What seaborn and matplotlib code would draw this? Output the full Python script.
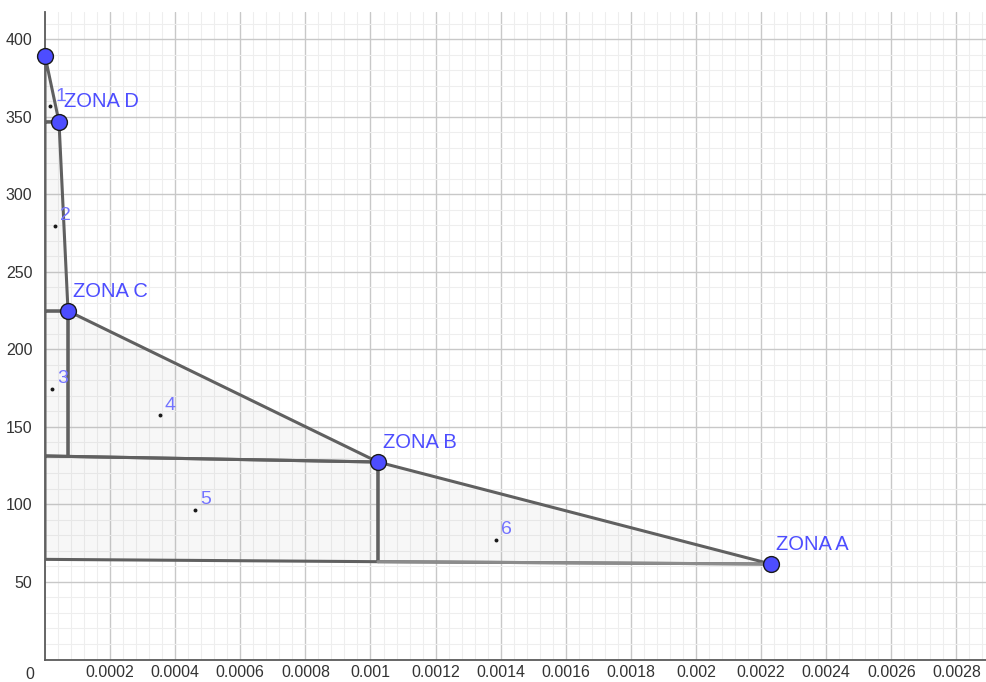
import numpy as np
import pandas as pd
import seaborn as sns
import matplotlib.pyplot as plt
from matplotlib.ticker import MultipleLocator

# --- data ---
zone_names = ["ZONA A", "ZONA B", "ZONA C", "ZONA D"]
zone_x = [0.00223, 0.001023, 0.0000707, 0.000043]
zone_y = [61.6, 127.4, 224.8, 346.8]

# top vertex on the y axis
top_x, top_y = 0.0, 389.5

# lower corners of the regions
mid_left_y = 131.3      # y of line C-B at x=0
mid_c_y = 131.0         # y of that line under ZONA C
low_left_y = 64.6       # bottom line at x=0
low_b_y = 63.1          # bottom line under ZONA B

region_ids = ["1", "2", "3", "4", "5", "6"]
region_x = [0.0000154, 0.0000307, 0.0000215, 0.000353, 0.000461, 0.001386]
region_y = [357.0, 279.7, 174.5, 157.7, 96.5, 77.1]

x_ticks = [0.0002, 0.0004, 0.0006, 0.0008, 0.001, 0.0012, 0.0014,
           0.0016, 0.0018, 0.002, 0.0022, 0.0024, 0.0026, 0.0028]
y_ticks = [50, 100, 150, 200, 250, 300, 350, 400]

sns.set_style("white")
plt.rcParams['font.family'] = ['Liberation Sans', 'DejaVu Sans']

fig = plt.figure(figsize=(9.86, 6.82), dpi=100)
ax = fig.add_axes([45 / 986, 22.5 / 682, 941 / 986, 647.5 / 682])
ax.set_xlim(0, 0.002891)
ax.set_ylim(0, 417.7)

# grid
ax.xaxis.set_major_locator(MultipleLocator(0.0002))
ax.yaxis.set_major_locator(MultipleLocator(50))
ax.xaxis.set_minor_locator(MultipleLocator(0.00004))
ax.yaxis.set_minor_locator(MultipleLocator(10))
ax.grid(which="major", color="#c8c8c8", lw=1.0, zorder=0)
ax.grid(which="minor", color="#eeeeee", lw=0.8, zorder=0)
ax.set_axisbelow(True)

ax.set_xticks(x_ticks)
ax.set_xticklabels([f"{v:g}" for v in x_ticks])
ax.set_yticks(y_ticks)
ax.set_yticklabels([str(v) for v in y_ticks])
ax.tick_params(which="both", length=0, labelsize=11.5, labelcolor="#333333")
ax.tick_params(axis="y", pad=9)
ax.tick_params(axis="x", pad=4)
ax.text(-0.000046, -9.5, "0", fontsize=11.5, color="#333333", ha="center", va="center")

for s in ["top", "right"]:
    ax.spines[s].set_visible(False)
for s in ["left", "bottom"]:
    ax.spines[s].set_color("#5a5a5a")
    ax.spines[s].set_linewidth(1.3)

xa, xb, xc, xd = zone_x
ya, yb, yc, yd = zone_y

polys = [
    [(top_x, top_y), (xd, yd), (0, yd)],
    [(0, yd), (xd, yd), (xc, yc), (0, yc)],
    [(0, yc), (xc, yc), (xc, mid_c_y), (0, mid_left_y)],
    [(xc, yc), (xb, yb), (xc, mid_c_y)],
    [(0, mid_left_y), (xb, yb), (xb, low_b_y), (0, low_left_y)],
    [(xb, yb), (xa, ya), (xb, low_b_y)],
]
edge = "#606060"
for p in polys:
    px, py = zip(*p)
    ax.fill(px, py, facecolor="#999999", alpha=0.08, edgecolor="none", zorder=2)
    ax.plot(list(px) + [px[0]], list(py) + [py[0]], color=edge, lw=2.2,
            solid_joinstyle="round", zorder=3)
# lighter bottom edge of region 6
ax.plot([xb, xa], [low_b_y, ya], color="#8c8c8c", lw=2.2, zorder=3.5)

# region centre dots and numbers
sns.scatterplot(x=region_x, y=region_y, color="#1a1a1a", s=8, linewidth=0,
                ax=ax, zorder=5)
for rid, rx, ry in zip(region_ids, region_x, region_y):
    ax.annotate(rid, (rx, ry), xytext=(5, 10), textcoords="offset pixels",
                fontsize=14, color="#7373ff", ha="left", va="center", zorder=6)

# zone points
pts = pd.DataFrame({"x": [top_x] + zone_x, "y": [top_y] + zone_y})
sns.scatterplot(data=pts, x="x", y="y", color="#4d4dff", edgecolor="#1a1a1a",
                s=130, linewidth=1.0, ax=ax, zorder=7, clip_on=False)
for name, zx, zy in zip(zone_names, zone_x, zone_y):
    ax.annotate(name, (zx, zy), xytext=(5, 20), textcoords="offset pixels",
                fontsize=14.5, color="#4d4dff", ha="left", va="center", zorder=8)

ax.set_xlabel("")
ax.set_ylabel("")
fig.savefig("out.png", dpi=100)
